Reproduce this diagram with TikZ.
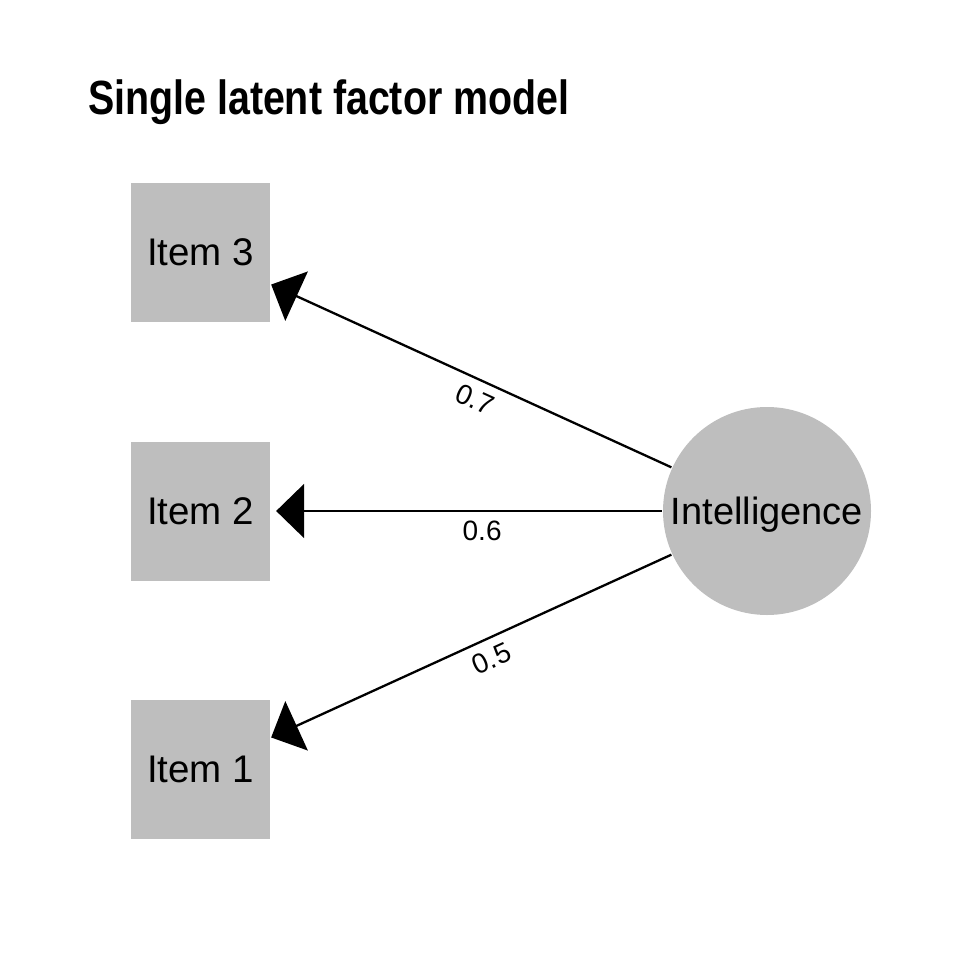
\documentclass[tikz,border=0pt]{standalone}
\usepackage{fontspec}
\setmainfont{Liberation Sans}
\newfontfamily\titlefont[FakeStretch=0.82]{Liberation Sans}
\usetikzlibrary{positioning, arrows.meta}
\definecolor{nodegray}{RGB}{190,190,190}

\begin{document}
\begin{tikzpicture}[x=1pt, y=-1pt, >={Triangle[length=28pt,width=54pt]},
                    line width=2.3pt, on grid, node distance=258.5pt,
  item/.style={rectangle, fill=nodegray, minimum size=139pt, inner sep=0pt,
               font=\fontsize{38.5}{40}\selectfont},
  latent/.style={circle, fill=nodegray, minimum size=208pt, inner sep=0pt,
                 text depth=0pt, font=\fontsize{38}{40}\selectfont},
  load/.style={font=\fontsize{28}{30}\selectfont, sloped, below=5.5pt, pos=0.47}]
\useasboundingbox (0,0) rectangle (960,960);
\node[anchor=base west, inner sep=0pt] (title) at (87,115) {\titlefont\bfseries\fontsize{48}{50}\selectfont Single latent factor model};
\node[item]   (i3) at (200.5,252.5) {Item 3};
\node[item]   (i2) [below of=i3]     {Item 2};
\node[item]   (i1) [below of=i2]     {Item 1};
\node[latent] (lat) [right of=i2, node distance=566.5pt] {Intelligence};

\path[->] (lat) edge node[load] {0.7} (i3)
(lat) edge [shorten >=5pt] node[load, pos=0.46] {0.6} (i2)
(lat) edge node[load] {0.5} (i1);
\end{tikzpicture}
\end{document}
